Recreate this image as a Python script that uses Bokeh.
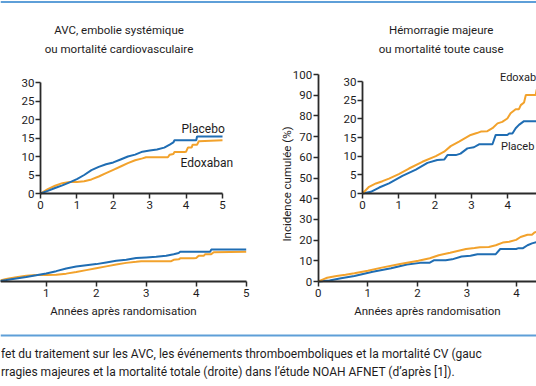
from math import pi
from bokeh.plotting import figure
from bokeh.models import Range1d, LinearAxis, FixedTicker, Label, Span
from bokeh.embed import file_html
from bokeh.resources import INLINE

# ---------------- data ----------------
year_ticks = [0, 1, 2, 3, 4, 5]
main_pct_ticks = [0, 10, 20, 30, 40, 50, 60, 70, 80, 90, 100]
inset_pct_ticks = [0, 5, 10, 15, 20, 25, 30]

# Left panel: AVC, embolie systemique ou mortalite CV
left_t_placebo = [0, 0.2, 0.4, 0.6, 0.8, 1.0, 1.2, 1.4, 1.6, 1.8, 2.0, 2.2, 2.4, 2.6, 2.8,
                  3.0, 3.2, 3.4, 3.55, 3.65, 3.68, 4.28, 4.30, 5.0]
left_placebo = [0, 0.7, 1.5, 2.2, 3.0, 3.9, 5.0, 6.3, 7.2, 7.9, 8.4, 9.2, 10.0, 10.5, 11.3,
                11.6, 11.9, 12.4, 13.2, 13.8, 14.4, 14.4, 15.4, 15.4]
left_t_edox = [0, 0.2, 0.4, 0.6, 0.8, 1.0, 1.2, 1.4, 1.6, 1.8, 2.0, 2.2, 2.4, 2.6, 2.8, 2.9,
               3.5, 3.55, 3.65, 3.68, 3.95, 4.0, 4.05, 4.15, 4.18, 4.30, 4.35, 5.0]
left_edox = [0, 1.2, 2.1, 2.8, 3.1, 3.1, 3.3, 3.8, 4.6, 5.5, 6.4, 7.3, 8.2, 9.0, 9.5, 9.8,
             9.8, 10.5, 10.7, 11.2, 11.2, 11.3, 12.4, 12.4, 13.2, 13.2, 14.1, 14.4]

# Right panel: Hemorragie majeure ou mortalite toute cause
right_t_placebo = [0, 0.23, 0.46, 0.73, 1.1, 1.47, 1.79, 2.06, 2.25, 2.34, 2.57, 2.7, 2.89,
                   3.07, 3.21, 3.58, 3.67, 3.99, 4.04, 4.13, 4.22, 4.31, 4.45, 5.0]
right_placebo = [0, 0.45, 1.6, 2.7, 4.7, 6.4, 8.2, 9.0, 9.1, 10.3, 10.3, 10.7, 12.1,
                 12.4, 13.2, 13.2, 15.7, 15.7, 16.1, 16.1, 17.5, 18.4, 19.4, 19.4]
right_t_edox = [0, 0.1, 0.18, 0.37, 0.55, 0.73, 1.0, 1.28, 1.65, 2.02, 2.25, 2.43, 2.66, 2.98,
                3.15, 3.26, 3.44, 3.58, 3.72, 3.85, 3.99, 4.08, 4.22, 4.31, 4.36, 4.45, 4.5,
                4.77, 4.8, 5.0]
right_edox = [0, 1.0, 1.8, 2.7, 3.3, 4.0, 5.2, 6.7, 8.5, 10.0, 11.2, 12.7, 13.9, 15.7,
              16.2, 16.6, 16.7, 17.5, 18.8, 19.2, 20.1, 21.5, 22.6, 22.6, 23.7, 24.4, 26.4,
              26.4, 27.9, 27.9]

x_label = "Années après randomisation"
y_label = "Incidence cumulée (%)"
left_title = ["AVC, embolie systémique", "ou mortalité cardiovasculaire"]
right_title = ["Hémorragie majeure", "ou mortalité toute cause"]
left_series = ["Placebo", "Edoxaban"]
right_series = ["Placeb", "Edoxab"]   # cut at the picture's right edge
caption = ["fet du traitement sur les AVC, les événements thromboemboliques et la mortalité CV (gauc",
           "rragies majeures et la mortalité totale (droite) dans l’étude NOAH AFNET (d’après [1])."]

# ---------------- style ----------------
BLUE = "#1f6db3"
ORANGE = "#f2a22c"
RULE = "#5e9fd8"
INK = "#1e1c1d"
AXIS = "#2a2a2a"
FONT = "Roboto"

W, H = 536, 386
PX0, PY0 = 0, 0
PX1, PY1 = PX0 + W, PY0 + H


def xr(px_zero, px_per_unit):
    return Range1d(start=(PX0 - px_zero) / px_per_unit, end=(PX1 - px_zero) / px_per_unit)


def yr(py_zero, px_per_unit):
    return Range1d(start=(py_zero - PY1) / px_per_unit, end=(py_zero - PY0) / px_per_unit)


p = figure(width=W, height=H, x_range=xr(317.7, 49.6), y_range=yr(281, 2.07),
           output_backend="svg", toolbar_location=None, x_axis_type=None, y_axis_type=None,
           min_border=0, outline_line_color=None, title=None,
           background_fill_color="white", border_fill_color="white")

p.extra_x_ranges = {
    "lx": xr(-4.3, 50.0),
    "lix": xr(40, 36.4),
    "rix": xr(362, 36.3),
    "px": Range1d(PX0, PX1),
}
p.extra_y_ranges = {
    "liy": yr(193, 3.7),
    "riy": yr(193, 3.73),
    "py": Range1d(PY1, PY0),
}


def add_axis(side, ticks, bounds, xname="default", yname="default", label=None, standoff=2):
    ax = LinearAxis(x_range_name=xname, y_range_name=yname, fixed_location=0,
                    bounds=bounds, ticker=FixedTicker(ticks=ticks))
    ax.axis_line_color = AXIS
    ax.axis_line_width = 1.8
    ax.major_tick_line_color = AXIS
    ax.major_tick_line_width = 1.5
    ax.major_tick_out = 5
    ax.major_tick_in = 0
    ax.minor_tick_out = 0
    ax.minor_tick_in = 0
    ax.major_label_standoff = standoff
    ax.major_label_text_font = FONT
    ax.major_label_text_font_size = "11.5px"
    ax.major_label_text_color = INK
    if label:
        ax.axis_label = label
        ax.axis_label_text_font = FONT
        ax.axis_label_text_font_size = "11.5px"
        ax.axis_label_text_font_style = "normal"
        ax.axis_label_text_color = INK
        ax.axis_label_standoff = 4
    p.add_layout(ax, side)
    return ax


# main axes
add_axis("left", main_pct_ticks, (0, 100), standoff=1)
add_axis("below", year_ticks, (0, 5), label=x_label)
add_axis("below", year_ticks, (0, 5), xname="lx", label=x_label)
# inset axes
add_axis("left", inset_pct_ticks, (0, 30), xname="lix", yname="liy", standoff=1)
add_axis("below", year_ticks, (0, 5), xname="lix", yname="liy")
add_axis("left", inset_pct_ticks, (0, 30), xname="rix", yname="riy", standoff=1)
add_axis("below", year_ticks, (0, 5), xname="rix", yname="riy")

# curves: main plots
p.line(left_t_edox, left_edox, x_range_name="lx", line_color=ORANGE, line_width=2)
p.line(left_t_placebo, left_placebo, x_range_name="lx", line_color=BLUE, line_width=2)
p.line(right_t_placebo, right_placebo, line_color=BLUE, line_width=2)
p.line(right_t_edox, right_edox, line_color=ORANGE, line_width=2)
# curves: insets
p.line(left_t_edox, left_edox, x_range_name="lix", y_range_name="liy", line_color=ORANGE, line_width=2)
p.line(left_t_placebo, left_placebo, x_range_name="lix", y_range_name="liy", line_color=BLUE, line_width=2)
p.line(right_t_placebo, right_placebo, x_range_name="rix", y_range_name="riy", line_color=BLUE, line_width=2)
p.line(right_t_edox, right_edox, x_range_name="rix", y_range_name="riy", line_color=ORANGE, line_width=2)


def label(x, y, text, align="center", size="11.5px", angle=0.0):
    p.add_layout(Label(x=x, y=y, x_range_name="px", y_range_name="py", text=text,
                       text_align=align, text_baseline="middle", text_font=FONT,
                       text_font_size=size, text_color=INK, angle=angle))


label(118.5, 29, left_title[0])
label(118.5, 48, left_title[1])
label(440.7, 29, right_title[0])
label(440.7, 48, right_title[1])

# y-axis title of the right main plot
label(286.5, 183.5, y_label, angle=pi / 2)

label(181, 128.5, left_series[0], align="left", size="12px")
label(180, 162, left_series[1], align="left", size="12px")
label(499.5, 77, right_series[1], align="left", size="11px")
label(500.5, 146, right_series[0], align="left", size="11px")

p.add_layout(Span(location=1.5, dimension="width", y_range_name="py",
                  line_color=RULE, line_width=2))
p.add_layout(Span(location=335, dimension="width", y_range_name="py",
                  line_color=RULE, line_width=2))

label(0.5, 353, caption[0], align="left", size="12px")
label(0.5, 371, caption[1], align="left", size="12px")

open("out.html", "w").write(file_html(p, INLINE))
